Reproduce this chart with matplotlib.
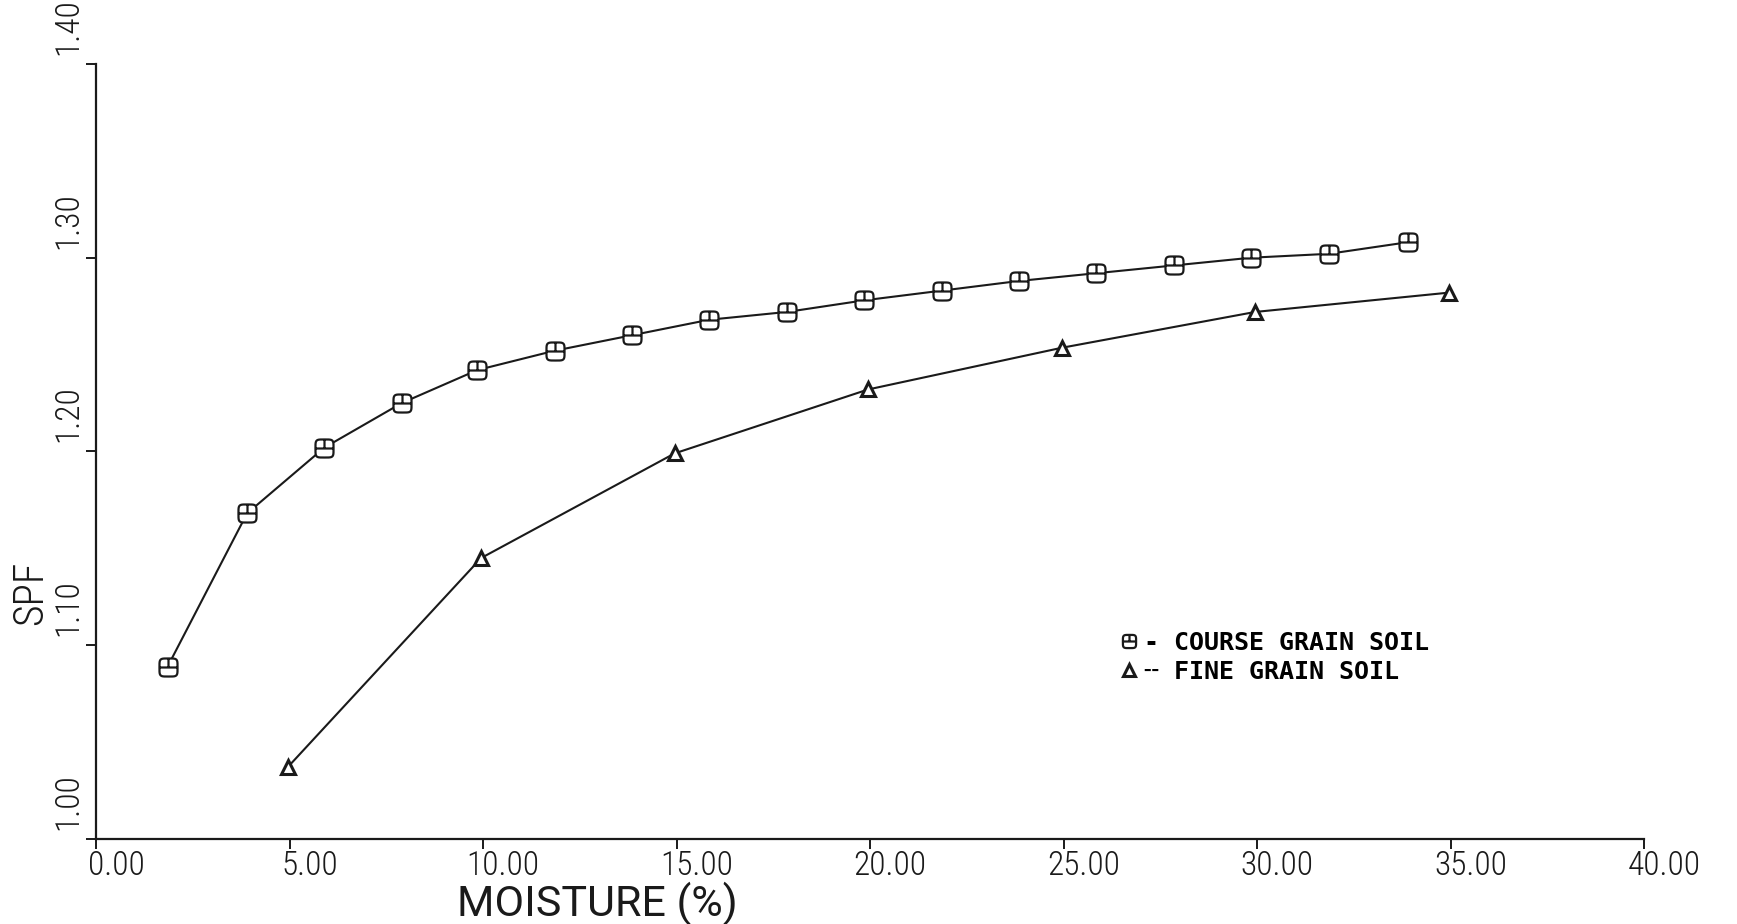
#!/usr/bin/env python3
"""SPF vs moisture for coarse and fine grain soil."""

import matplotlib
matplotlib.use("Agg")
import matplotlib.pyplot as plt
import matplotlib.transforms as mtransforms
from matplotlib.lines import Line2D
from matplotlib.path import Path
import numpy as np

COARSE_MOISTURE = [1.85, 3.9, 5.9, 7.9, 9.85, 11.85, 13.85, 15.85, 17.85, 19.85,
                   21.85, 23.85, 25.85, 27.85, 29.85, 31.85, 33.9]
COARSE_SPF = [1.089, 1.168, 1.202, 1.225, 1.242, 1.252, 1.260, 1.268, 1.272, 1.278,
              1.283, 1.288, 1.292, 1.296, 1.300, 1.302, 1.308]

FINE_MOISTURE = [4.95, 9.95, 14.95, 19.95, 24.95, 29.95, 34.97]
FINE_SPF = [1.037, 1.145, 1.199, 1.232, 1.2535, 1.272, 1.282]

X_TICKS = [0, 5, 10, 15, 20, 25, 30, 35, 40]
Y_TICKS = [1.00, 1.10, 1.20, 1.30, 1.40]

LEGEND_LABELS = ["- COURSE GRAIN SOIL", "\u254c FINE GRAIN SOIL"]

FONT = ["Roboto Condensed", "DejaVu Sans"]
INK = "#1a1a1a"


def coarse_marker() -> Path:
  # rounded square with a cross inside, like the plotter symbol
  t = np.linspace(0, 2 * np.pi, 41)
  n = 5.0
  xs = np.sign(np.cos(t)) * np.abs(np.cos(t)) ** (2 / n)
  ys = np.sign(np.sin(t)) * np.abs(np.sin(t)) ** (2 / n)
  outline = Path(np.column_stack([xs, ys]), closed=True)
  vert = Path([[0, 1], [0, 0]])
  horiz = Path([[-1, 0], [1, 0]])
  return Path.make_compound_path(outline, vert, horiz)


def main() -> None:
  plt.rcParams["font.family"] = FONT
  plt.rcParams["font.weight"] = "light"
  fig = plt.figure(figsize=(17.37, 9.24), dpi=100)
  ax = fig.add_axes([0.0553, 0.092, 0.8912, 0.8388])

  marker = coarse_marker()
  ax.plot(COARSE_MOISTURE, COARSE_SPF, color=INK, linewidth=1.5,
          marker=marker, markersize=13, markerfacecolor="white",
          markeredgecolor=INK, markeredgewidth=1.6, zorder=3)
  ax.plot(FINE_MOISTURE, FINE_SPF, color=INK, linewidth=1.5,
          marker="^", markersize=10, markerfacecolor="white",
          markeredgecolor=INK, markeredgewidth=2.2, zorder=3)

  ax.set_xlim(0, 40)
  ax.set_ylim(1.0, 1.4)
  for side in ("top", "right"):
    ax.spines[side].set_visible(False)
  for side in ("left", "bottom"):
    ax.spines[side].set_linewidth(1.6)
    ax.spines[side].set_color(INK)

  ax.set_xticks(X_TICKS, [f"{v:.2f}" for v in X_TICKS])
  ax.set_yticks(Y_TICKS, [f"{v:.2f}" for v in Y_TICKS])
  ax.tick_params(axis="both", direction="out", length=7, width=1.4, colors=INK)
  ax.tick_params(axis="x", pad=1, labelsize=24)
  ax.tick_params(axis="y", pad=1.5, labelrotation=90, labelsize=24)

  dx = mtransforms.ScaledTranslation(0.20, 0, fig.dpi_scale_trans)
  for lab in ax.get_xticklabels():
    lab.set_transform(lab.get_transform() + dx)
  dy = mtransforms.ScaledTranslation(0, 0.09, fig.dpi_scale_trans)
  for lab in ax.get_yticklabels():
    lab.set_va("bottom")
    lab.set_transform(lab.get_transform() + dy)

  fig.text(0.344, 0.008, "MOISTURE (%)", fontsize=31, color=INK,
           family=["Roboto", "DejaVu Sans"], weight="normal",
           ha="center", va="baseline")
  fig.text(0.0175, 0.358, "SPF", fontsize=30, color=INK, rotation=90,
           ha="center", va="center")

  handles = [
      Line2D([], [], linestyle="none", marker=marker, markersize=9.5,
             markerfacecolor="white", markeredgecolor=INK, markeredgewidth=1.6),
      Line2D([], [], linestyle="none", marker="^", markersize=8,
             markerfacecolor="white", markeredgecolor=INK, markeredgewidth=2.2),
  ]
  ax.legend(handles, LEGEND_LABELS, loc="upper left",
            bbox_to_anchor=(0.648, 0.298), frameon=False,
            handlelength=0.6, handletextpad=0.3, labelspacing=0.2,
            prop={"family": "DejaVu Sans Mono", "weight": "bold", "size": 18})

  fig.savefig("out.png", dpi=100, facecolor="white")
  plt.close(fig)


if __name__ == "__main__":
  main()
